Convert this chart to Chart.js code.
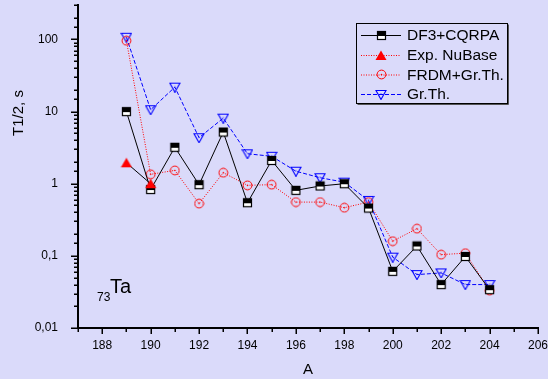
<!DOCTYPE html>
<html>
<head>
<meta charset="utf-8">
<script src="https://cdn.jsdelivr.net/npm/chart.js@4.4.0/dist/chart.umd.min.js"></script>
<style>
  html, body { margin: 0; padding: 0; background: #dadafa; }
  canvas { display: block; }
</style>
</head>
<body>
<canvas id="halfLife" width="548" height="379"></canvas>
<script>
// Ta isotopes, half-lives in seconds
const massNumbers = [189, 190, 191, 192, 193, 194, 195, 196, 197, 198, 199, 200, 201, 202, 203, 204];
const df3Cqrpa = [10.0, 0.83, 3.2, 0.97, 5.2, 0.545, 2.1, 0.81, 0.93, 1.0, 0.46, 0.061, 0.137, 0.040, 0.098, 0.034];
const frdmGrTh = [96, 1.35, 1.53, 0.53, 1.42, 0.95, 0.97, 0.556, 0.556, 0.465, 0.556, 0.16, 0.238, 0.104, 0.109, 0.033];
const grTh = [107, 10.6, 21.8, 4.34, 8.1, 2.6, 2.4, 1.49, 1.21, 1.05, 0.587, 0.096, 0.055, 0.058, 0.040, 0.040];
const expMass = [189, 190];
const expNuBase = [1.95, 1.0];

const yTickText = { 0.01: '0,01', 0.1: '0,1', 1: '1', 10: '10', 100: '100' };
const FONT = '"Liberation Sans", Arial, sans-serif';

function toPoints(xs, ys) {
  return xs.map((x, i) => ({ x: x, y: ys[i] }));
}

function makeCanvas(w, h) {
  const c = document.createElement('canvas');
  c.width = w; c.height = h;
  return c;
}

// marker sprites
function squareMarker() {
  const c = makeCanvas(11, 11), g = c.getContext('2d');
  g.fillStyle = '#fff'; g.fillRect(1, 1, 9, 9);
  g.fillStyle = '#000'; g.fillRect(1, 1, 9, 5);
  g.strokeStyle = '#000'; g.lineWidth = 1.2; g.strokeRect(1.5, 1.5, 8, 8);
  return c;
}
function circleMarker() {
  const c = makeCanvas(11, 11), g = c.getContext('2d');
  g.strokeStyle = '#ff0000'; g.lineWidth = 1;
  g.beginPath(); g.arc(5.5, 5.5, 4.4, 0, Math.PI * 2); g.stroke();
  g.fillStyle = '#ff0000';
  g.beginPath(); g.arc(5.5, 5.5, 0.8, 0, Math.PI * 2); g.fill();
  return c;
}
function triDownMarker() {
  const c = makeCanvas(12, 11), g = c.getContext('2d');
  g.strokeStyle = '#0000ff'; g.lineWidth = 1.1;
  g.beginPath(); g.moveTo(1, 1.5); g.lineTo(11, 1.5); g.lineTo(6, 10.5); g.closePath(); g.stroke();
  g.fillStyle = '#0000ff'; g.fillRect(5.5, 4.5, 1, 1);
  return c;
}
function triUpMarker() {
  const c = makeCanvas(12, 11), g = c.getContext('2d');
  g.fillStyle = '#ff0000';
  g.beginPath(); g.moveTo(6, 0.5); g.lineTo(11.5, 10); g.lineTo(0.5, 10); g.closePath(); g.fill();
  return c;
}

const markers = {
  square: squareMarker(),
  circle: circleMarker(),
  triDown: triDownMarker(),
  triUp: triUpMarker()
};

// legend swatches: line style + marker
const legendStyle = [
  { color: '#000', dash: [], marker: markers.square },
  { color: '#ff0000', dash: [1, 1.5], marker: markers.triUp },
  { color: '#ff0000', dash: [1, 1.5], marker: markers.circle },
  { color: '#0000ff', dash: [4, 2], marker: markers.triDown }
];

const tickMarks = {
  id: 'tickMarks',
  afterDraw(chart) {
    const ctx = chart.ctx, area = chart.chartArea;
    const ys = chart.scales.y, xs = chart.scales.x;
    ctx.save();
    ctx.strokeStyle = '#000';
    ctx.lineWidth = 1.5;
    ys.ticks.forEach(t => {
      const lg = Math.log10(t.value);
      const major = Math.abs(lg - Math.round(lg)) < 1e-6;
      const len = major ? 7 : 4;
      const y = Math.round(ys.getPixelForValue(t.value)) + 0.25;
      ctx.beginPath(); ctx.moveTo(area.left - len, y); ctx.lineTo(area.left, y); ctx.stroke();
    });
    xs.ticks.forEach(t => {
      const len = t.value % 2 === 0 ? 6 : 4;
      const x = Math.round(xs.getPixelForValue(t.value)) + 0.25;
      ctx.beginPath(); ctx.moveTo(x, area.bottom); ctx.lineTo(x, area.bottom + len); ctx.stroke();
    });
    ctx.restore();
  }
};

const annotations = {
  id: 'annotations',
  afterDraw(chart) {
    const ctx = chart.ctx;
    ctx.save();
    ctx.fillStyle = '#000';

    // y axis title
    ctx.save();
    ctx.translate(19, 113);
    ctx.rotate(-Math.PI / 2);
    ctx.font = '15px ' + FONT;
    ctx.textAlign = 'center';
    ctx.textBaseline = 'middle';
    ctx.fillText('T1/2, s', 0, 0);
    ctx.restore();

    // element symbol
    ctx.textAlign = 'left';
    ctx.textBaseline = 'alphabetic';
    ctx.font = '12px ' + FONT;
    ctx.fillText('73', 97, 301);
    ctx.font = '20px ' + FONT;
    ctx.fillText('Ta', 110, 293);

    // legend box
    const bx = 356.5, by = 23.5, bw = 151, bh = 80;
    ctx.fillStyle = '#555';
    ctx.fillRect(bx + 1, by + bh, bw, 1.5);
    ctx.fillRect(bx + bw, by + 1, 1.5, bh);
    ctx.strokeStyle = '#000';
    ctx.lineWidth = 1;
    ctx.strokeRect(bx, by, bw, bh);

    const rows = [35, 55, 74.5, 94];
    ctx.font = '15.5px ' + FONT;
    ctx.textBaseline = 'middle';
    chart.data.datasets.forEach((ds, i) => {
      const st = legendStyle[i], y = rows[i];
      ctx.strokeStyle = st.color;
      ctx.lineWidth = 1;
      ctx.setLineDash(st.dash);
      ctx.beginPath(); ctx.moveTo(361, y + 0.5); ctx.lineTo(401, y + 0.5); ctx.stroke();
      ctx.setLineDash([]);
      const m = st.marker;
      ctx.drawImage(m, Math.round(381 - m.width / 2), Math.round(y - m.height / 2));
      ctx.fillStyle = '#000';
      ctx.fillText(ds.label, 407, y + 1);
    });
    ctx.restore();
  }
};

new Chart(document.getElementById('halfLife'), {
  type: 'line',
  data: {
    datasets: [
      {
        label: 'DF3+CQRPA',
        data: toPoints(massNumbers, df3Cqrpa),
        borderColor: '#000',
        borderWidth: 1,
        pointStyle: markers.square,
        tension: 0
      },
      {
        label: 'Exp. NuBase',
        data: toPoints(expMass, expNuBase),
        borderColor: '#000',
        borderWidth: 1,
        pointStyle: markers.triUp,
        tension: 0,
        order: -1
      },
      {
        label: 'FRDM+Gr.Th.',
        data: toPoints(massNumbers, frdmGrTh),
        borderColor: '#ff0000',
        borderWidth: 1,
        borderDash: [1, 1.5],
        pointStyle: markers.circle,
        tension: 0
      },
      {
        label: 'Gr.Th.',
        data: toPoints(massNumbers, grTh),
        borderColor: '#0000ff',
        borderWidth: 1,
        borderDash: [4, 2],
        pointStyle: markers.triDown,
        tension: 0
      }
    ]
  },
  options: {
    responsive: false,
    animation: false,
    layout: { padding: { top: 5, right: 10, left: 0, bottom: 0 } },
    plugins: {
      legend: { display: false },
      tooltip: { enabled: false }
    },
    scales: {
      x: {
        type: 'linear',
        min: 187,
        max: 206,
        afterFit: s => {
          s.height = 51;
          s.paddingLeft = 0; s.paddingRight = 0;
          s.paddingTop = 0; s.paddingBottom = 0;
        },
        grid: { display: true, drawOnChartArea: false, drawTicks: false },
        border: { display: true, color: '#000', width: 2 },
        ticks: {
          stepSize: 1,
          autoSkip: false,
          maxRotation: 0,
          padding: 10,
          color: '#000',
          font: { family: FONT, size: 12 },
          callback: v => (v % 2 === 0 ? String(v) : '')
        },
        title: {
          display: true,
          text: 'A',
          color: '#000',
          font: { family: FONT, size: 15 },
          padding: { top: 0, bottom: 0 }
        }
      },
      y: {
        type: 'logarithmic',
        min: 0.01,
        max: 300,
        afterFit: s => {
          s.width = 78;
          s.paddingLeft = 0; s.paddingRight = 0;
          s.paddingTop = 0; s.paddingBottom = 0;
        },
        grid: { display: true, drawOnChartArea: false, drawTicks: false },
        border: { display: true, color: '#000', width: 2 },
        ticks: {
          autoSkip: false,
          padding: 20,
          color: '#000',
          font: { family: FONT, size: 12 },
          callback: v => yTickText[v] || ''
        }
      }
    }
  },
  plugins: [tickMarks, annotations]
});
</script>
</body>
</html>
